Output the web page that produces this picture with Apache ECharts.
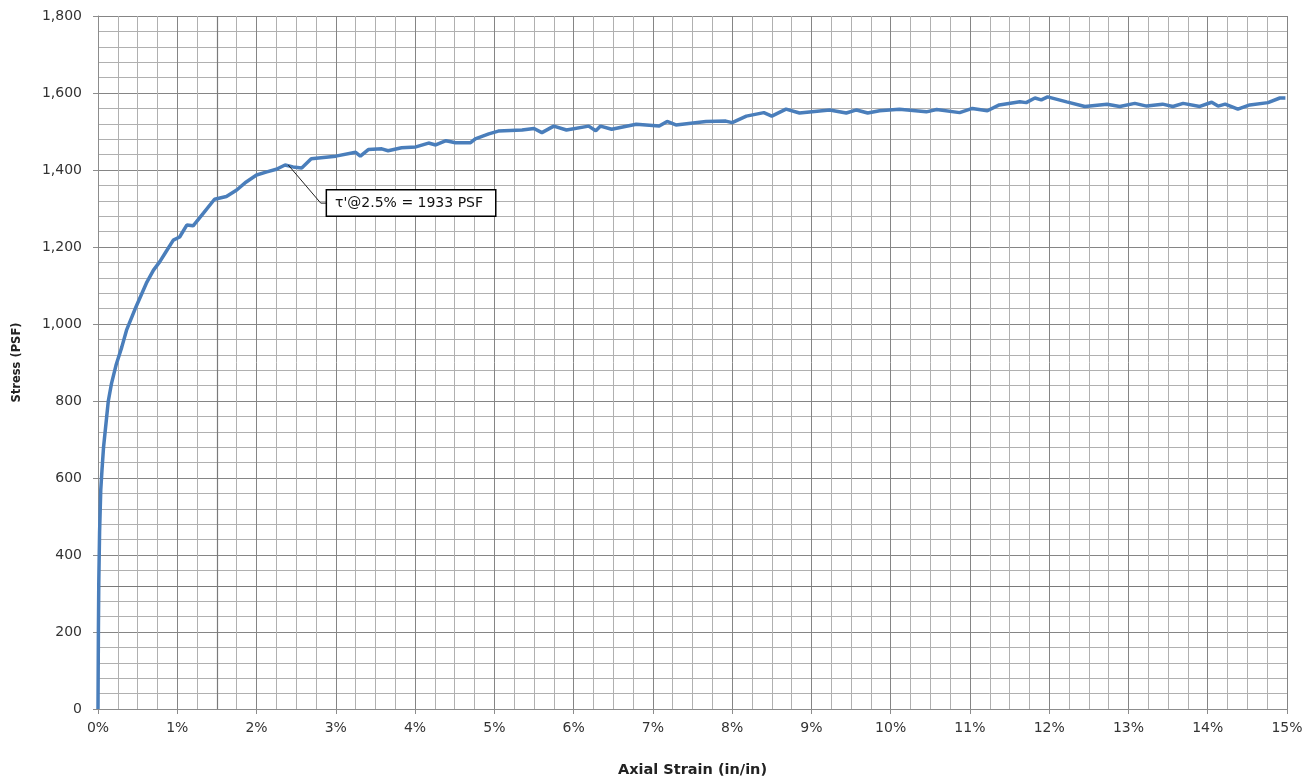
<!DOCTYPE html>
<html>
<head>
<meta charset="utf-8">
<script src="https://cdn.jsdelivr.net/npm/echarts@6/dist/echarts.min.js"></script>
<style>html,body{margin:0;padding:0;background:#fff}#c{width:1307px;height:783px}</style>
</head>
<body>
<div id="c"></div>
<script>
// Axial strain (%) and stress (PSF)
const strain = [0, 0.005, 0.01, 0.02, 0.035, 0.05, 0.07, 0.09, 0.13, 0.17, 0.23, 0.3, 0.36, 0.48, 0.61, 0.7, 0.78, 0.85, 0.95,
  1.03, 1.12, 1.2, 1.33, 1.47, 1.62, 1.75, 1.87, 2.0, 2.13, 2.25, 2.36, 2.46, 2.57, 2.69, 3.0, 3.25, 3.31, 3.41, 3.58, 3.66, 3.83,
  4.01, 4.17, 4.26, 4.39, 4.51, 4.70, 4.76, 4.93, 5.05, 5.35, 5.50, 5.60, 5.75, 5.91, 6.19, 6.28, 6.34, 6.48, 6.79, 7.08, 7.18,
  7.29, 7.67, 7.92, 8.0, 8.18, 8.40, 8.50, 8.68, 8.85, 9.23, 9.44, 9.57, 9.71, 9.86, 10.11, 10.45, 10.58, 10.87, 11.03, 11.22,
  11.37, 11.63, 11.71, 11.82, 11.90, 11.98, 12.22, 12.45, 12.73, 12.89, 13.08, 13.23, 13.43, 13.56, 13.69, 13.90, 14.05, 14.13,
  14.22, 14.38, 14.53, 14.76, 14.91, 14.98];
const stress = [0, 200, 330, 460, 570, 620, 680, 720, 800, 845, 895, 940, 984, 1045, 1106, 1140, 1162, 1185, 1218,
  1226, 1257, 1255, 1288, 1324, 1331, 1348, 1369, 1387, 1395, 1402, 1413, 1408, 1405, 1429, 1436, 1446, 1436, 1453, 1455, 1450, 1458,
  1460, 1470, 1465, 1476, 1471, 1471, 1481, 1494, 1501, 1504, 1508, 1497, 1514, 1504, 1514, 1502, 1514, 1506, 1519, 1514, 1526,
  1517, 1526, 1527, 1523, 1540, 1549, 1540, 1558, 1548, 1556, 1548, 1556, 1548, 1554, 1558, 1551, 1557, 1549, 1560, 1554,
  1569, 1577, 1575, 1587, 1582, 1590, 1577, 1565, 1571, 1565, 1573, 1566, 1571, 1565, 1573, 1565, 1576, 1566,
  1571, 1558, 1569, 1575, 1587, 1587];
// Annotation leader (strain %, stress) and text
const leaderStrain = [2.40, 2.81, 2.89];
const leaderStress = [1413, 1314, 1314];
const annotationText = "τ'@2.5% = 1933 PSF";
const xTitle = 'Axial Strain (in/in)';
const yTitle = 'Stress (PSF)';
// slightly darker grid lines visible in the reference
const darkX = 1.5;
const darkY = 320;

const font = '"DejaVu Sans", sans-serif';
const chart = echarts.init(document.getElementById('c'), null, {renderer: 'canvas'});
chart.setOption({
  animation: false,
  backgroundColor: '#fff',
  grid: {left: 98, right: 20, top: 16, bottom: 74, containLabel: false},
  xAxis: {
    type: 'value', min: 0, max: 15, interval: 1,
    name: xTitle, nameLocation: 'middle', nameGap: 54,
    nameTextStyle: {fontFamily: font, fontSize: 14.5, fontWeight: 'bold', color: '#222'},
    axisLine: {show: true, lineStyle: {color: '#8c8c8c', width: 1}},
    axisTick: {show: true, length: 5, lineStyle: {color: '#8c8c8c'}},
    axisLabel: {formatter: v => v + '%', fontFamily: font, fontSize: 14, color: '#333', margin: 12},
    splitLine: {show: true, lineStyle: {color: '#858585', width: 1}},
    minorTick: {show: false, splitNumber: 4},
    minorSplitLine: {show: true, lineStyle: {color: '#b0b0b0', width: 1}}
  },
  yAxis: {
    type: 'value', min: 0, max: 1800, interval: 200,
    name: yTitle, nameLocation: 'middle', nameGap: 75, nameRotate: 90,
    nameTextStyle: {fontFamily: font, fontSize: 11.5, fontWeight: 'bold', color: '#222'},
    axisLine: {show: true, lineStyle: {color: '#8c8c8c', width: 1}},
    axisTick: {show: true, length: 5, lineStyle: {color: '#8c8c8c'}},
    axisLabel: {formatter: v => v.toLocaleString('en-US'), fontFamily: font, fontSize: 14, color: '#333', margin: 16},
    splitLine: {show: true, lineStyle: {color: '#858585', width: 1}},
    minorTick: {show: false, splitNumber: 5},
    minorSplitLine: {show: true, lineStyle: {color: '#b0b0b0', width: 1}}
  },
  series: [
    {
      type: 'line', data: strain.map((s, i) => [s, stress[i]]),
      showSymbol: false, symbol: 'none', smooth: false,
      lineStyle: {color: '#4a7ebb', width: 3.5},
      markLine: {
        silent: true, symbol: 'none', label: {show: false},
        lineStyle: {color: '#7a7a7a', width: 1.2, type: 'solid'},
        data: [{xAxis: darkX}, {yAxis: darkY}],
        z: 1
      },
      z: 3
    },
    {
      type: 'line', data: leaderStrain.map((s, i) => [s, leaderStress[i]]),
      symbol: 'none', showSymbol: false,
      lineStyle: {color: '#222', width: 1},
      endLabel: {
        show: true, distance: 0, formatter: annotationText,
        fontFamily: font, fontSize: 14, color: '#111', backgroundColor: '#fff',
        borderColor: '#000', borderWidth: 1.5, padding: [6, 12, 5, 8]
      },
      z: 4
    }
  ]
});
</script>
</body>
</html>
